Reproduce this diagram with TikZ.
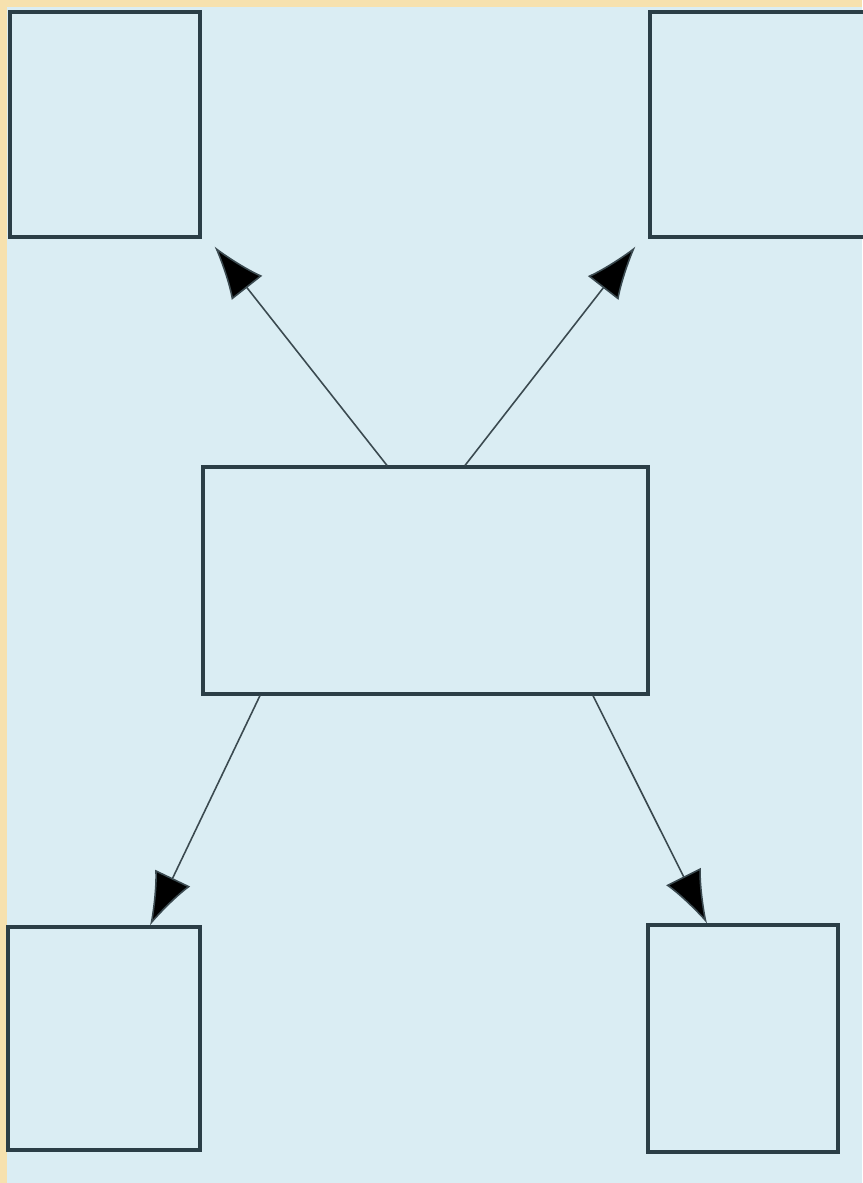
\documentclass[tikz,border=0pt]{standalone}
\usepackage{tikz}
\usetikzlibrary{arrows.meta}
\usetikzlibrary{positioning}
\definecolor{paper}{HTML}{F6E1AE}
\definecolor{sky}{HTML}{DAEDF3}
\definecolor{edge}{HTML}{2B3E46}
\definecolor{wire}{HTML}{3B4A50}
\tikzset{box/.style = {draw=edge, fill=sky, line width=1.8pt, inner sep=0pt},
         link/.style = {draw=wire, line width=0.9pt,
                        -{Latex[length=1.05cm, width=0.78cm, fill=black]}}}

\begin{document}
\begin{tikzpicture}[x=0.02cm, y=-0.02cm]
    \useasboundingbox (0, 0) rectangle (862, 1183);
    \fill [paper] (0, 0) rectangle (862, 1183);
    \fill [sky] (7, 7) rectangle (862, 1183);

    \node [box, minimum width=3.8cm, minimum height=4.5cm] (tl) at (105, 124.5) {};
    \node [box, minimum width=4.4cm, minimum height=4.5cm] (tr) at (760, 124.5) {};
    \node [box, minimum width=8.9cm, minimum height=4.54cm] (mid) at (425.5, 580.5) {};
    \node [box, minimum width=3.84cm, minimum height=4.46cm] (bl) at (104, 1038.5) {};
    \node [box, minimum width=3.8cm, minimum height=4.54cm] (br) at (743, 1038.5) {};

    \coordinate (tlend) at ([shift={(13, 8)}]tl.south east);
    \coordinate (trend) at ([shift={(-13, 8)}]tr.south west);

    \draw [link] ([shift={(-38.5, 0)}]mid.north) -- (tlend);
    \draw [link] ([shift={(39.5, 0)}]mid.north) -- (trend);
    \draw [link] ([shift={(-165.5, 0)}]mid.south) -- ([shift={(46, 0)}]bl.north);
    \draw [link] ([shift={(167.5, 0)}]mid.south) -- ([shift={(-36, 0)}]br.north);
\end{tikzpicture}
\end{document}
